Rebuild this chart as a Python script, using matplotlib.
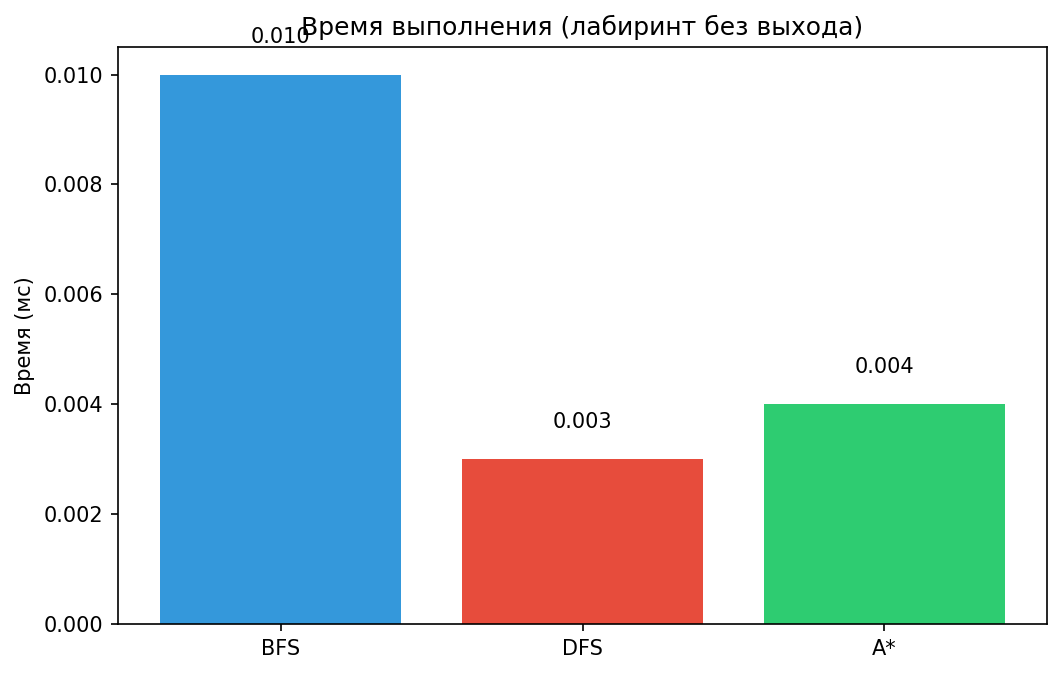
import matplotlib
matplotlib.use("Agg")
import matplotlib.pyplot as plt

# данные
algorithms = ["BFS", "DFS", "A*"]
times = [0.010, 0.003, 0.004]
colors = ["#3498db", "#e74c3c", "#2ecc71"]

fig = plt.figure(figsize=(1062 / 150, 674 / 150), dpi=150)
ax = fig.add_axes([0.111, 0.0742, 0.875, 0.856])

bars = ax.bar(algorithms, times, color=colors)
for b, t in zip(bars, times):
    ax.text(b.get_x() + b.get_width() / 2, t + 0.0005, f"{t:.3f}",
            ha="center", va="bottom", fontsize=10)

ax.set_title("Время выполнения (лабиринт без выхода)", fontsize=12)
ax.set_ylabel("Время (мс)")

fig.savefig("out.png", dpi=150)
